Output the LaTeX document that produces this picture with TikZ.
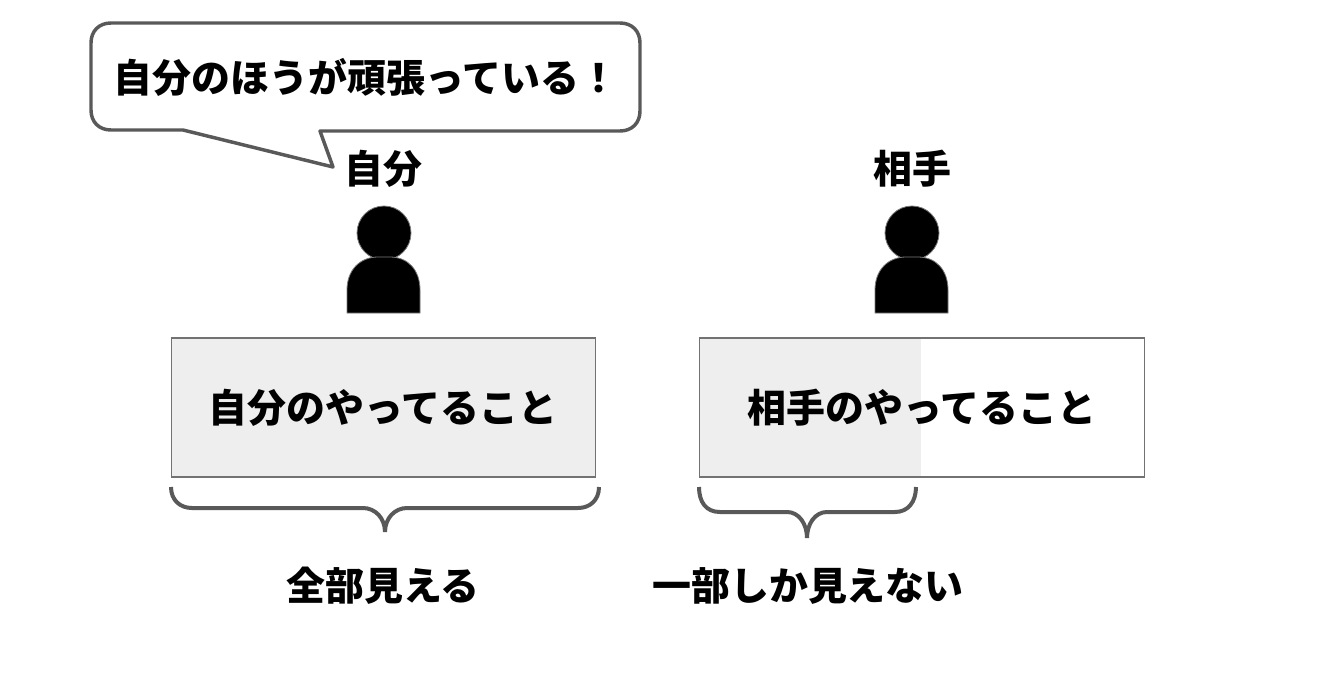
\documentclass[tikz,border=0pt]{standalone}
\usepackage{fontspec}
\setmainfont{Noto Sans CJK JP}
\usepackage{tikz}
\usetikzlibrary{positioning}
\definecolor{linegray}{HTML}{595959}
\definecolor{boxgray}{HTML}{EEEEEE}
\tikzset{
  label/.style={font=\fontsize{29.2}{34}\selectfont\bfseries,inner sep=0pt},
  workbox/.style={draw=linegray!85,line width=0.8pt,minimum height=104.25pt,inner sep=0pt},
  bubble/.style={draw=linegray,line width=2.6pt,fill=white,line join=round},
  brace/.style={draw=linegray,line width=3pt}
}
\newcommand{\person}[1]{
\fill[black] (#1,233) circle (27);
\draw[linegray!80,line width=0.6pt] (#1,233) circle (27);
\fill[black,draw=linegray!80,line width=0.6pt] (#1-37,313) -- (#1-37,290) .. controls (#1-37,270) and (#1-24,257) .. (#1-6,257)
-- (#1+6,257) .. controls (#1+24,257) and (#1+36,270) .. (#1+36,290) -- (#1+36,313) -- cycle;
}
\begin{document}
\begin{tikzpicture}[x=0.75pt,y=-0.75pt]
\useasboundingbox (0,0) rectangle (1325,693);
% speech bubble
\draw[bubble] (111,23) -- (620,23) .. controls (632,23) and (640,31) .. (640,43)
-- (640,111) .. controls (640,123) and (632,131) .. (620,131)
-- (320,131) -- (333,167) -- (183,130) -- (111,130)
.. controls (99,130) and (91,122) .. (91,110) -- (91,43)
.. controls (91,31) and (99,23) .. (111,23) -- cycle;
\node[label] (say) at (366,77) {自分のほうが頑張っている！};
% the two people
\node[label] (me) at (383.5,169) {自分};
\node[label] (other) at (912,169) {相手};
\person{384}
\person{912}
% the two boxes
\fill[boxgray] (699,338) rectangle (921,477);
\node[workbox,fill=boxgray,minimum width=318.4pt] (mine) at (383.5,407.5) {};
\node[workbox,minimum width=334pt] (theirs) at (922,407.5) {};
\node[label] (minetext) at (383,408) {自分のやってること};
\node[label] (theirstext) at (922,408) {相手のやってること};
% braces
\draw[brace] (171,487) .. controls (171,500) and (180,508) .. (192,508) -- (363,508)
.. controls (375,508) and (385,518) .. (385,532)
.. controls (385,518) and (395,508) .. (407,508) -- (578,508)
.. controls (590,508) and (599,500) .. (599,487);
\draw[brace] (699,487) .. controls (699,502) and (706,512) .. (720,512) -- (787,512)
.. controls (799,512) and (807,524) .. (807,538)
.. controls (807,524) and (815,512) .. (827,512) -- (895,512)
.. controls (908,512) and (916,502) .. (916,487);
\node[label] (all) at (383,586) {全部見える};
\node[label] (part) at (808,586) {一部しか見えない};
\end{tikzpicture}
\end{document}
